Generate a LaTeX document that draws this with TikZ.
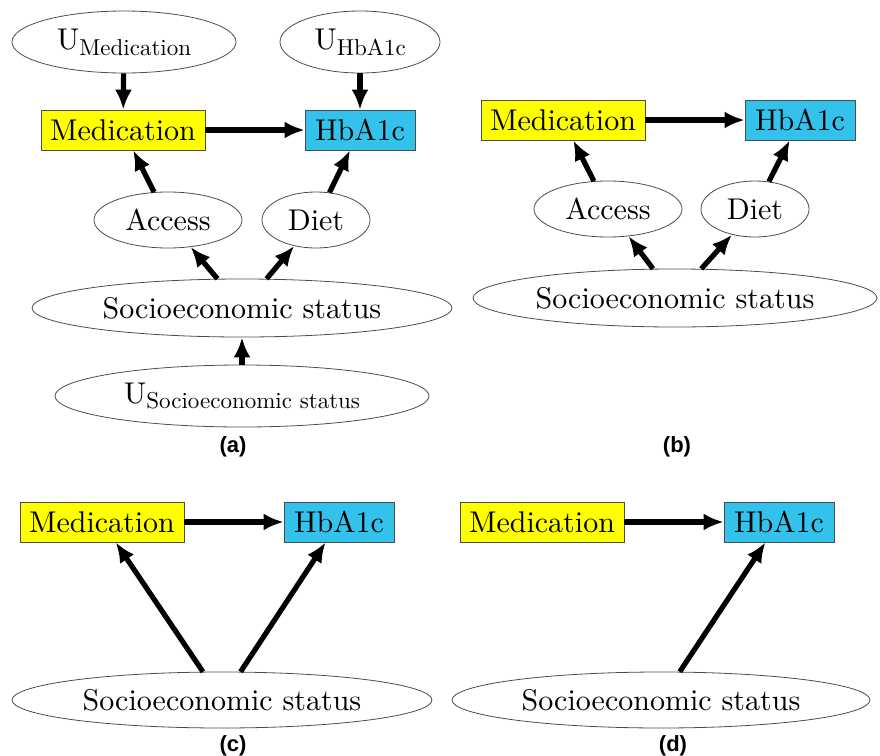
\documentclass[tikz,border=0pt]{standalone}
\usepackage{fontspec}
\setmainfont{lmroman10-regular.otf}
\newfontfamily\panelfont{Liberation Sans}
\usetikzlibrary{shapes.geometric,arrows.meta}
\definecolor{medyellow}{RGB}{255,255,0}
\definecolor{hbblue}{RGB}{51,194,235}
\newcommand{\usub}[1]{U\raisebox{-0.45ex}{\fontsize{11.5}{12}\selectfont #1}}

\begin{document}
\begin{tikzpicture}[x=0.5pt, y=-0.5pt,
    var/.style={rectangle, draw=black!70, font=\fontsize{15}{18}\selectfont, inner sep=0pt, minimum height=20pt},
    med/.style={var, fill=medyellow, minimum width=82pt},
    hba/.style={var, fill=hbblue, minimum width=55pt},
    oval/.style={ellipse, draw=black!70, font=\fontsize{15}{18}\selectfont, inner sep=0pt},
    edge/.style={-{Latex[length=10pt,width=8.5pt]}, line width=2.6pt},
    caption/.style={font=\panelfont\bfseries\fontsize{11}{13}\selectfont}]
    \useasboundingbox (0,0) rectangle (880,756);

    % (a) full graph with unobserved terms
    \node[oval, minimum width=112pt, minimum height=31pt] (uMedA) at (124,42) {\usub{Medication}};
    \node[oval, minimum width=80pt, minimum height=31pt] (uHbaA) at (360,42) {\usub{HbA1c}};
    \node[med] (medA) at (123,130) {Medication};
    \node[hba] (hbaA) at (360,130) {HbA1c};
    \node[oval, minimum width=74pt, minimum height=28pt] (accA) at (168,220) {Access};
    \node[oval, minimum width=54pt, minimum height=28pt] (dietA) at (316,220) {Diet};
    \node[oval, minimum width=210pt, minimum height=29pt] (sesA) at (242,308) {Socioeconomic status};
    \node[oval, minimum width=187pt, minimum height=31pt] (uSesA) at (242,396) {\usub{Socioeconomic status}};
    \node[caption] (capA) at (233,447) {(a)};

    \draw[edge] (uMedA) -- (medA);
    \draw[edge] (uHbaA) -- (hbaA);
    \draw[edge] (medA) -- (hbaA);
    \draw[edge] (accA) -- (medA);
    \draw[edge] (dietA) -- (hbaA);
    \draw[edge] (sesA) -- (accA);
    \draw[edge] (sesA) -- (dietA);
    \draw[edge] (uSesA) -- (sesA);

    % (b) observed variables only
    \node[med] (medB) at (563,120) {Medication};
    \node[hba] (hbaB) at (800,120) {HbA1c};
    \node[oval, minimum width=74pt, minimum height=28pt] (accB) at (608,209) {Access};
    \node[oval, minimum width=54pt, minimum height=28pt] (dietB) at (755,209) {Diet};
    \node[oval, minimum width=202pt, minimum height=29pt] (sesB) at (675,298) {Socioeconomic status};
    \node[caption] (capB) at (677,447) {(b)};

    \draw[edge] (medB) -- (hbaB);
    \draw[edge] (accB) -- (medB);
    \draw[edge] (dietB) -- (hbaB);
    \draw[edge] (sesB) -- (accB);
    \draw[edge] (sesB) -- (dietB);

    % (c) mediators removed
    \node[med] (medC) at (102,522) {Medication};
    \node[hba] (hbaC) at (339,522) {HbA1c};
    \node[oval, minimum width=210pt, minimum height=28pt] (sesC) at (222,700) {Socioeconomic status};
    \node[caption] (capC) at (233,746) {(c)};

    \draw[edge] (medC) -- (hbaC);
    \draw[edge] (sesC) -- (medC);
    \draw[edge] (sesC) -- (hbaC);

    % (d) access path cut
    \node[med] (medD) at (542,522) {Medication};
    \node[hba] (hbaD) at (779,522) {HbA1c};
    \node[oval, minimum width=209pt, minimum height=28pt] (sesD) at (661,700) {Socioeconomic status};
    \node[caption] (capD) at (673,746) {(d)};

    \draw[edge] (medD) -- (hbaD);
    \draw[edge] (sesD) -- (hbaD);
\end{tikzpicture}
\end{document}
